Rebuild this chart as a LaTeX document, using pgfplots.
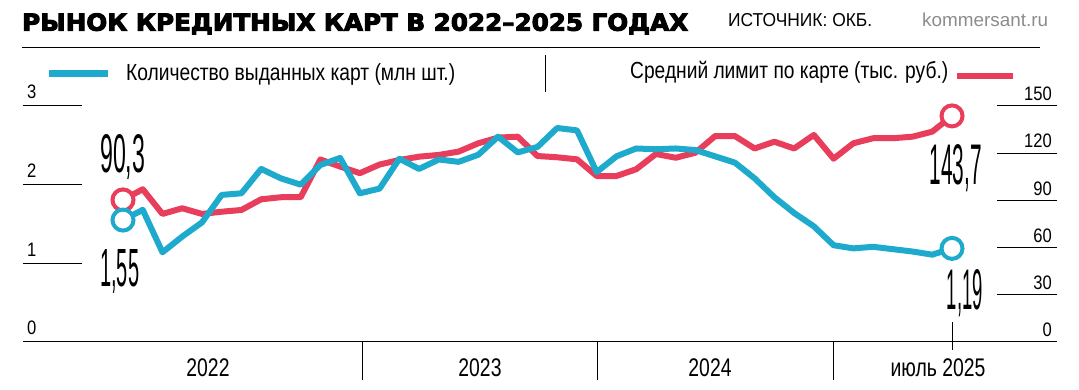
\documentclass[border=0pt]{standalone}
\usepackage{pgfplots}
\pgfplotsset{compat=1.18}
\usepackage{pgfplotstable}
\usepackage{graphicx}
\usepackage{fontspec}
\setmainfont{Liberation Sans}
\newfontfamily\condfont[FakeStretch=0.85]{Liberation Sans}
\newfontfamily\yearfont[FakeStretch=0.76]{Liberation Sans}
\newfontfamily\numfont[FakeStretch=0.45]{Liberation Sans}
\newfontfamily\titlefont[FakeBold=4]{DejaVu Sans Bold}
\definecolor{kblue}{RGB}{30,170,205}
\definecolor{kred}{RGB}{232,62,92}

\pgfplotstableread{
i v
0 1.55
1 1.68
2 1.14
3 1.34
4 1.52
5 1.87
6 1.89
7 2.20
8 2.08
9 2.00
10 2.25
11 2.34
12 1.89
13 1.95
14 2.33
15 2.20
16 2.32
17 2.29
18 2.38
19 2.61
20 2.41
21 2.48
22 2.72
23 2.69
24 2.16
25 2.36
26 2.46
27 2.45
28 2.46
29 2.44
30 2.36
31 2.28
32 2.08
33 1.84
34 1.64
35 1.47
36 1.23
37 1.19
38 1.21
39 1.18
40 1.15
41 1.11
42 1.19
}\cardtab

\pgfplotstableread{
i r
0 90.3
1 97.1
2 81.4
3 85.0
4 81.4
5 82.8
6 83.9
7 90.7
8 92.0
9 92.0
10 116.0
11 111.5
12 107.3
13 112.8
14 115.7
15 117.8
16 118.9
17 121.0
18 126.3
19 129.9
20 130.5
21 118.2
22 117.4
23 116.1
24 105.5
25 105.5
26 109.8
27 119.5
28 117.1
29 120.3
30 130.9
31 130.9
32 123.0
33 127.3
34 123.0
35 131.6
36 116.5
37 126.3
38 129.5
39 129.5
40 130.5
41 133.7
42 143.7
}\limtab

\pgfplotsset{kaxis/.style={at={(23pt,48pt)}, anchor=south west, scale only axis,
  width=1034pt, height=236pt, xmin=-5.066, xmax=47.32, clip=false,
  xtick=\empty, axis line style={draw=none},
  tick align=inside, ytick style={black, line width=1pt},
  /pgf/number format/assume math mode=true}}

\begin{document}
\begin{tikzpicture}[x=1pt,y=1pt]
\path (0,0) rectangle (1079,390);
% right axis: average limit
\begin{axis}[kaxis, ymin=0, ymax=150,
  ytick pos=right, yticklabel pos=right,
  ytick={0,30,60,90,120,150}, major tick length=60pt,
  yticklabel style={font=\condfont\fontsize{19.5}{20}\selectfont, anchor=south east, inner sep=0pt, xshift=-5pt, yshift=5pt}]
\addplot[kred, line width=6pt, line join=round] table[x=i,y=r]{\limtab};
\addplot[only marks, mark=*, mark size=10.5pt, mark options={fill=white, draw=kred, line width=4pt}] coordinates {(0,90.3) (42,143.7)};
\end{axis}
% left axis: number of cards
\begin{axis}[kaxis, ymin=0, ymax=3,
  ytick pos=left, yticklabel pos=left,
  ytick={0,1,2,3}, major tick length=59pt,
  yticklabel style={font=\condfont\fontsize{19.5}{20}\selectfont, anchor=south west, inner sep=0pt, xshift=4pt, yshift=7pt}]
\addplot[kblue, line width=6pt, line join=round] table[x=i,y=v]{\cardtab};
\addplot[only marks, mark=*, mark size=10.5pt, mark options={fill=white, draw=kblue, line width=4pt}] coordinates {(0,1.55) (42,1.19)};
\end{axis}
% baseline and separators
\draw[line width=1pt] (23,48) -- (1057,48);
\draw[line width=1pt] (362,48) -- (362,10);
\draw[line width=1pt] (597,48) -- (597,10);
\draw[line width=1pt] (833,48) -- (833,10);
\draw[line width=1pt] (952,68) -- (952,40);
% year labels
\node[font=\yearfont\fontsize{25.5}{26}\selectfont, anchor=base, inner sep=0pt] at (208,13) {2022};
\node[font=\yearfont\fontsize{25.5}{26}\selectfont, anchor=base, inner sep=0pt] at (480,13) {2023};
\node[font=\yearfont\fontsize{25.5}{26}\selectfont, anchor=base, inner sep=0pt] at (710,13) {2024};
\node[font=\yearfont\fontsize{25.5}{26}\selectfont, anchor=base, inner sep=0pt] at (938,13) {июль 2025};
% value labels
\node[anchor=base west, inner sep=0pt] at (100,217) {\resizebox{45pt}{38pt}{\numfont 90,3}};
\node[anchor=base west, inner sep=0pt] at (100,103) {\resizebox{39pt}{37pt}{\numfont 1,55}};
\node[anchor=base east, inner sep=0pt] at (982,205) {\resizebox{52pt}{40pt}{\numfont 143,7}};
\node[anchor=base east, inner sep=0pt] at (983,80) {\resizebox{36pt}{40pt}{\numfont 1,19}};
% title
\node[anchor=base west, inner sep=0pt] at (22,359.3) {\resizebox{666pt}{\height}{\titlefont\fontsize{23.5}{26}\selectfont РЫНОК КРЕДИТНЫХ КАРТ В 2022–2025 ГОДАХ}};
\node[anchor=base west, inner sep=0pt] at (728,363.3) {\resizebox{144pt}{\height}{\fontsize{18.7}{20}\selectfont ИСТОЧНИК: ОКБ.}};
\node[anchor=base west, inner sep=0pt, text={rgb,255:red,140;green,140;blue,140}] at (922,363.3) {\resizebox{126pt}{\height}{\fontsize{18.7}{20}\selectfont kommersant.ru}};
\draw[line width=1.5pt] (22,342.5) -- (1040,342.5);
% legend
\draw[kblue, line width=6.5pt] (49,316.3) -- (108,316.3);
\node[anchor=base west, inner sep=0pt] at (126,309.3) {\resizebox{329pt}{\height}{\fontsize{23.3}{25}\selectfont Количество выданных карт (млн шт.)}};
\draw[line width=1pt] (545,335) -- (545,298);
\node[anchor=base west, inner sep=0pt] at (630,311) {\resizebox{318pt}{\height}{\fontsize{23.3}{25}\selectfont Средний лимит по карте (тыс. руб.)}};
\draw[kred, line width=6.5pt] (957,314) -- (1013,314);
\end{tikzpicture}
\end{document}
